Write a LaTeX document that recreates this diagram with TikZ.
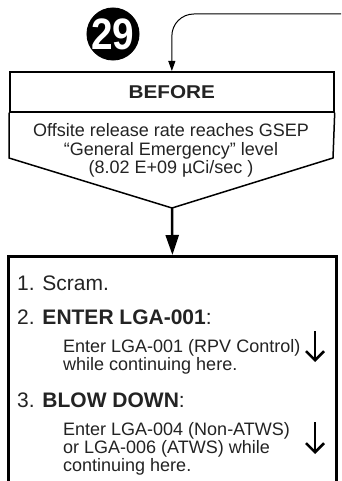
\documentclass[tikz,border=0pt]{standalone}
\usepackage{fontspec}
\setmainfont{Liberation Sans}
\usepackage{graphicx}
\usetikzlibrary{arrows.meta}
\definecolor{ink}{RGB}{35,35,35}
\begin{document}
\begin{tikzpicture}[x=1pt,y=-1pt,
  txt/.style={inner sep=0pt, text=ink},
  body/.style={txt, font=\fontsize{18}{18}\selectfont, anchor=base},
  stepline/.style={txt, font=\fontsize{21}{21}\selectfont, anchor=base west},
  sub/.style={txt, font=\fontsize{18}{18}\selectfont, anchor=base west},
  downarrow/.style={line width=2.5pt, -{Straight Barb[length=9pt,width=18pt,line width=2.5pt]}}
]
\useasboundingbox (0,0) rectangle (341,481);
\fill[white] (0,0) rectangle (341,481);
\clip (0,0) rectangle (341,481);

\node[circle, fill=black, minimum size=51pt, inner sep=0pt, text=white,
      font=\fontsize{44}{44}\selectfont\bfseries] (num) at (113,34) {\scalebox{0.88}[1]{29}};

\node[draw, line width=1.7pt, minimum width=324pt, minimum height=40pt, inner sep=0pt,
      anchor=north west, text=ink, font=\fontsize{18.5}{18.5}\selectfont\bfseries] (hdr) at (9,71)
      {\scalebox{1.12}[1]{BEFORE}};

\coordinate (src) at (345,14);
\draw[line width=1pt, rounded corners=22pt, -{Triangle[length=10pt,width=7pt]}] (src) -| (hdr.north);

\coordinate (tip) at (172,208);
\draw[line width=1.5pt, line join=miter] (hdr.south west) -- (9,158) -- (tip) -- (333,158) -- (hdr.south east);

\node[body] (c1) at (171,137) {Offsite release rate reaches GSEP};
\node[body] (c2) at (171,155) {“General Emergency” level};
\node[body] (c3) at (171,173) {(8.02 E+09 µCi/sec )};

\node[draw, line width=2.8pt, minimum width=328pt, minimum height=260pt, inner sep=0pt,
      anchor=north west] (main) at (7,255) {};
\draw[line width=2.5pt, -{Triangle[length=20pt,width=13pt]}] (tip) -- (main.north);

\node[stepline] (s1) at (17,290) {1. Scram.};
\node[stepline] (s2) at (17,324) {2. \textbf{ENTER LGA-001}:};
\node[sub] (s2a) at (63,352) {Enter LGA-001 (RPV Control)};
\node[sub] (s2b) at (63,370) {while continuing here.};
\coordinate (a1t) at (315,331);
\coordinate (a1b) at (315,362);
\draw[downarrow] (a1t) -- (a1b);

\node[stepline] (s3) at (17,407) {3. \textbf{BLOW DOWN}:};
\node[sub] (s3a) at (63,435) {Enter LGA-004 (Non-ATWS)};
\node[sub] (s3b) at (63,453) {or LGA-006 (ATWS) while};
\node[sub] (s3c) at (63,471) {continuing here.};
\coordinate (a2t) at (315,422);
\coordinate (a2b) at (315,454);
\draw[downarrow] (a2t) -- (a2b);
\end{tikzpicture}
\end{document}
